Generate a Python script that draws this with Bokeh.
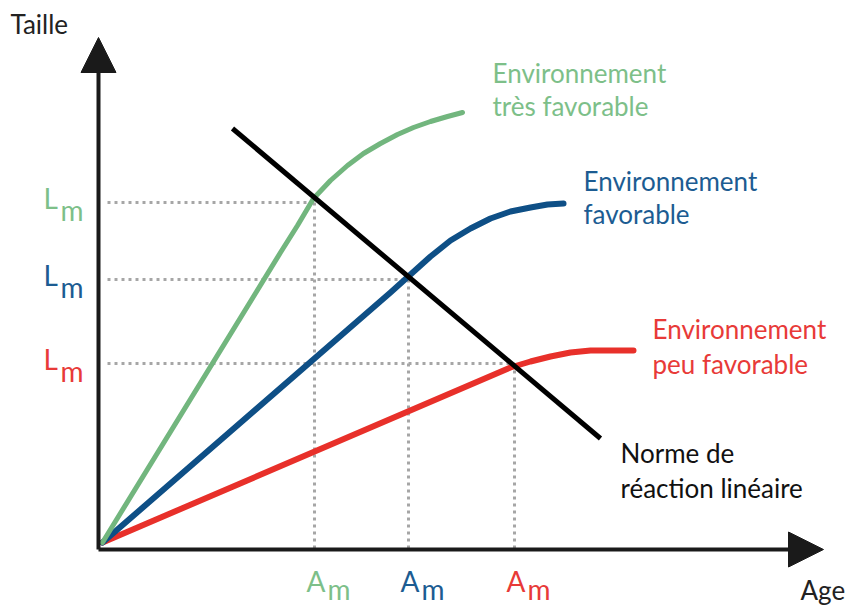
from bokeh.plotting import figure
from bokeh.models import Range1d, Arrow, NormalHead
from bokeh.core.properties import value
from bokeh.embed import file_html
from bokeh.resources import INLINE

# ---- data (arbitrary units: age / size) ----
green_age = [0, 1.78, 1.95, 2.11, 2.28, 2.45, 2.61, 2.78, 2.95, 3.11, 3.28, 3.45, 3.60]
green_size = [0, 2.90, 3.17, 3.44, 3.62, 3.77, 3.89, 3.99, 4.08, 4.15, 4.21, 4.26, 4.30]

blue_age = [0, 2.88, 3.08, 3.28, 3.48, 3.68, 3.88, 4.08, 4.28, 4.45, 4.61]
blue_size = [0, 2.50, 2.68, 2.86, 3.02, 3.14, 3.24, 3.31, 3.35, 3.38, 3.39]

red_age = [0, 4.08, 4.28, 4.48, 4.68, 4.88, 5.08, 5.31]
red_size = [0, 1.75, 1.81, 1.86, 1.90, 1.92, 1.92, 1.92]

norm_age = [1.30, 4.98]
norm_size = [4.14, 1.04]

# maturity sizes (Lm) and ages (Am): green, blue, red
Lm = [3.40, 2.63, 1.79]
Am = [2.12, 3.06, 4.12]

GREEN = "#72b67e"
GREEN_T = "#7dbf89"
BLUE = "#0e4f86"
BLUE_T = "#1c5c92"
RED = "#e8302a"
RED_T = "#e83a38"
GREY = "#a6a6a6"
FONT = value("Lato")
DY = -10  # baseline correction for text rendering

axis_x = -0.04
axis_y = -0.07

p = figure(width=848, height=607, output_backend="svg", toolbar_location=None,
           x_range=Range1d(-1.02, 7.46), y_range=Range1d(-0.65, 5.42),
           min_border=0, outline_line_color=None)
p.axis.visible = False
p.grid.visible = False
p.background_fill_color = "white"

tcolors = [GREEN_T, BLUE_T, RED_T]

# dotted guide lines
for lm, am in zip(Lm, Am):
    p.line([0.05, am], [lm, lm], line_color=GREY, line_width=3, line_dash="3 4")
    p.line([am, am], [lm, axis_y], line_color=GREY, line_width=3, line_dash="3 4")

# growth curves
p.line(red_age, red_size, line_color=RED, line_width=6, line_cap="round", line_join="round")
p.line(blue_age, blue_size, line_color=BLUE, line_width=6, line_cap="round", line_join="round")
p.line(green_age, green_size, line_color=GREEN, line_width=5, line_cap="round", line_join="round")

# reaction norm
p.line(norm_age, norm_size, line_color="black", line_width=5)

# axes with arrows
p.add_layout(Arrow(x_start=axis_x, y_start=axis_y, x_end=axis_x, y_end=5.05,
                   line_width=4, line_color="#1a1a1a",
                   end=NormalHead(size=35, fill_color="#1a1a1a", line_color="#1a1a1a")))
p.add_layout(Arrow(x_start=axis_x, y_start=axis_y, x_end=7.21, y_end=axis_y,
                   line_width=4, line_color="#1a1a1a",
                   end=NormalHead(size=35, fill_color="#1a1a1a", line_color="#1a1a1a")))

# tick-like labels Lm / Am
for lm, c in zip(Lm, tcolors):
    p.text(x=[axis_x], y=[lm], text=["L"], text_color=c, text_font=FONT,
           text_font_size="28px", text_baseline="alphabetic", x_offset=-55, y_offset=5 + DY)
    p.text(x=[axis_x], y=[lm], text=["m"], text_color=c, text_font=FONT,
           text_font_size="28px", text_baseline="alphabetic", x_offset=-38, y_offset=17 + DY)
for am, c in zip(Am, tcolors):
    p.text(x=[am], y=[axis_y], text=["A"], text_color=c, text_font=FONT,
           text_font_size="28px", text_baseline="alphabetic", x_offset=-8, y_offset=41 + DY)
    p.text(x=[am], y=[axis_y], text=["m"], text_color=c, text_font=FONT,
           text_font_size="28px", text_baseline="alphabetic", x_offset=13, y_offset=49 + DY)

# axis titles
p.text(x=[-0.92], y=[5.09], text=["Taille"], text_color="#222222", text_font=FONT,
       text_font_size="26px", text_baseline="alphabetic", y_offset=DY)
p.text(x=[6.98], y=[-0.57], text=["Age"], text_color="#222222", text_font=FONT,
       text_font_size="26px", text_baseline="alphabetic", y_offset=DY)

# curve labels
labels = [
    (3.90, [4.60, 4.27], ["Environnement", "très favorable"], GREEN_T),
    (4.81, [3.52, 3.19], ["Environnement", "favorable"], BLUE_T),
    (5.50, [2.04, 1.69], ["Environnement", "peu favorable"], RED_T),
    (5.18, [0.80, 0.45], ["Norme de", "réaction linéaire"], "#111111"),
]
for x0, ys, txts, c in labels:
    p.text(x=[x0] * len(ys), y=ys, text=txts, text_color=c, text_font=FONT,
           text_font_size="26px", text_baseline="alphabetic", y_offset=DY)

open("out.html", "w").write(file_html(p, INLINE))
